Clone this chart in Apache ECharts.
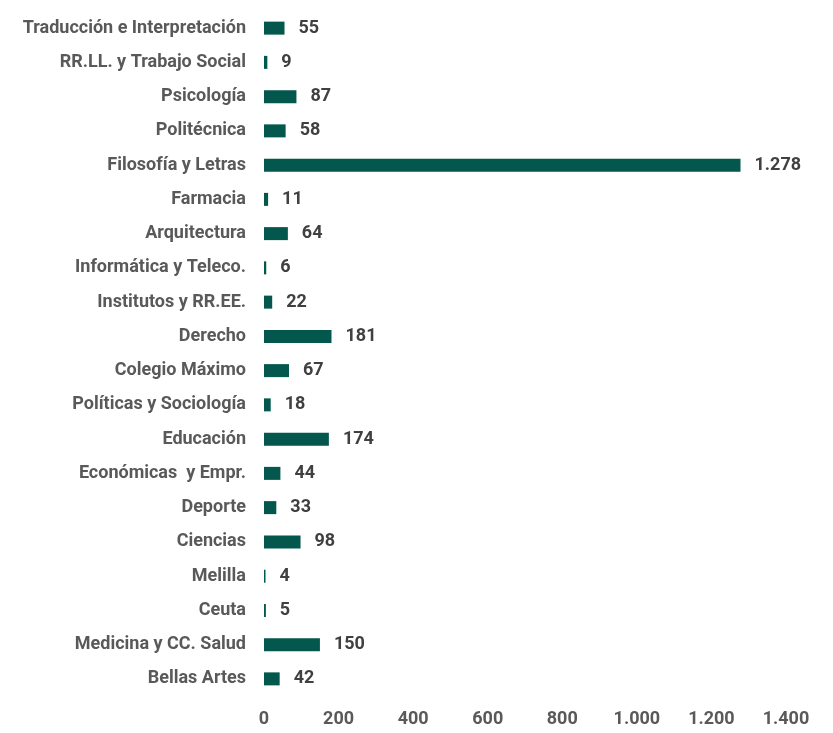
<!DOCTYPE html>
<html><head><meta charset="utf-8">
<script src="https://cdn.jsdelivr.net/npm/echarts@6/dist/echarts.min.js"></script>
<style>html,body{margin:0;padding:0;background:#fff}#c{width:833px;height:733px}</style>
</head><body><div id="c"></div>
<script>
const categories = ["Traducción e Interpretación","RR.LL. y Trabajo Social","Psicología","Politécnica","Filosofía y Letras","Farmacia","Arquitectura","Informática y Teleco.","Institutos y RR.EE.","Derecho","Colegio Máximo","Políticas y Sociología","Educación","Económicas  y Empr.","Deporte","Ciencias","Melilla","Ceuta","Medicina y CC. Salud","Bellas Artes"];
const values = [55,9,87,58,1278,11,64,6,22,181,67,18,174,44,33,98,4,5,150,42];
const xTicks = {min:0, max:1400, interval:200};
const fmt = v => String(v).replace(/\B(?=(\d{3})+(?!\d))/g, '.');
const chart = echarts.init(document.getElementById('c'));
chart.setOption({
  animation:false,
  grid:{left:264,right:47,top:11,bottom:37,containLabel:false},
  xAxis:{type:'value',min:xTicks.min,max:xTicks.max,interval:xTicks.interval,
    axisLine:{show:false},axisTick:{show:false},splitLine:{show:false},
    axisLabel:{formatter:fmt,color:'#595959',fontFamily:'Roboto',fontWeight:'bold',fontSize:18,margin:14}},
  yAxis:{type:'category',data:categories,inverse:true,
    axisLine:{show:false},axisTick:{show:false},
    axisLabel:{color:'#595959',fontFamily:'Roboto',fontWeight:'bold',fontSize:18,margin:18}},
  series:[{type:'bar',data:values,barWidth:13,itemStyle:{color:'#03574c'},
    label:{show:true,position:'right',distance:14,formatter:p=>fmt(p.value),color:'#404040',fontFamily:'Roboto',fontWeight:'bold',fontSize:18}}]
});
</script></body></html>
